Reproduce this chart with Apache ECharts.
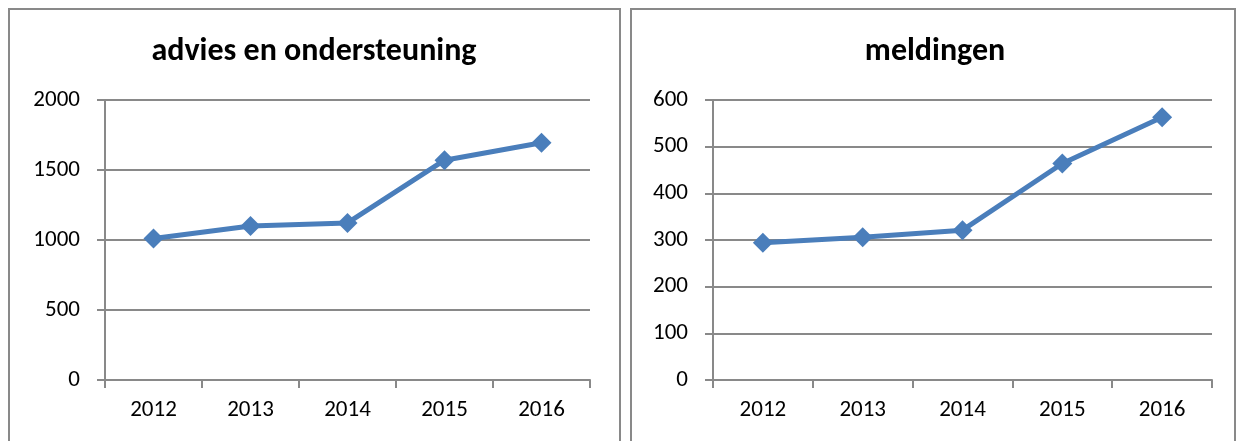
<!DOCTYPE html>
<html>
<head>
<meta charset="utf-8">
<script src="https://cdn.jsdelivr.net/npm/echarts@6/dist/echarts.min.js"></script>
<style>
  html, body { margin: 0; padding: 0; background: #fff; }
  #main { width: 1236px; height: 441px; }
</style>
</head>
<body>
<div id="main"></div>
<script>
var years = ['2012', '2013', '2014', '2015', '2016'];
var adviesValues = [1010, 1100, 1122, 1570, 1695];
var meldingenValues = [294, 306, 321, 464, 563];
var titles = ['advies en ondersteuning', 'meldingen'];

var chart = echarts.init(document.getElementById('main'));

var fontFam = 'Carlito, "Open Sans", "Liberation Sans", sans-serif';
var gray = '#898989';
var blue = '#4a7ebb';

function xAxis(idx) {
    return {
        type: 'category',
        gridIndex: idx,
        data: years,
        boundaryGap: true,
        axisLine: { lineStyle: { color: gray, width: 2 } },
        axisTick: { show: true, length: 8, lineStyle: { color: gray, width: 2 } },
        axisLabel: { color: '#000', fontSize: 23, fontFamily: fontFam, margin: 19 }
    };
}

function yAxis(idx, max, step) {
    return {
        type: 'value',
        gridIndex: idx,
        min: 0,
        max: max,
        interval: step,
        axisLine: { show: true, lineStyle: { color: gray, width: 2 } },
        axisTick: { show: true, length: 8, lineStyle: { color: gray, width: 2 } },
        splitLine: { lineStyle: { color: gray, width: 2 } },
        axisLabel: { color: '#000', fontSize: 23, fontFamily: fontFam, margin: 25,
                     formatter: function (v) { return String(v); } }
    };
}

function lineSeries(idx, values) {
    return {
        type: 'line',
        xAxisIndex: idx,
        yAxisIndex: idx,
        data: values,
        symbol: 'diamond',
        symbolSize: 20,
        lineStyle: { color: blue, width: 5 },
        itemStyle: { color: blue },
        animation: false
    };
}

chart.setOption({
    animation: false,
    title: [
        { text: titles[0], left: 309, top: 31, textAlign: 'center',
          textStyle: { fontSize: 32, fontWeight: 'bold', color: '#000', fontFamily: fontFam } },
        { text: titles[1], left: 930, top: 31, textAlign: 'center',
          textStyle: { fontSize: 32, fontWeight: 'bold', color: '#000', fontFamily: fontFam } }
    ],
    graphic: [
        { type: 'rect', shape: { x: 9, y: 9, width: 611, height: 460 },
          style: { fill: 'none', stroke: gray, lineWidth: 2 } },
        { type: 'rect', shape: { x: 631, y: 9, width: 604, height: 460 },
          style: { fill: 'none', stroke: gray, lineWidth: 2 } }
    ],
    grid: [
        { left: 105, top: 100, width: 485, height: 280 },
        { left: 713, top: 100, width: 499, height: 280 }
    ],
    xAxis: [xAxis(0), xAxis(1)],
    yAxis: [yAxis(0, 2000, 500), yAxis(1, 600, 100)],
    series: [lineSeries(0, adviesValues), lineSeries(1, meldingenValues)]
});
</script>
</body>
</html>
